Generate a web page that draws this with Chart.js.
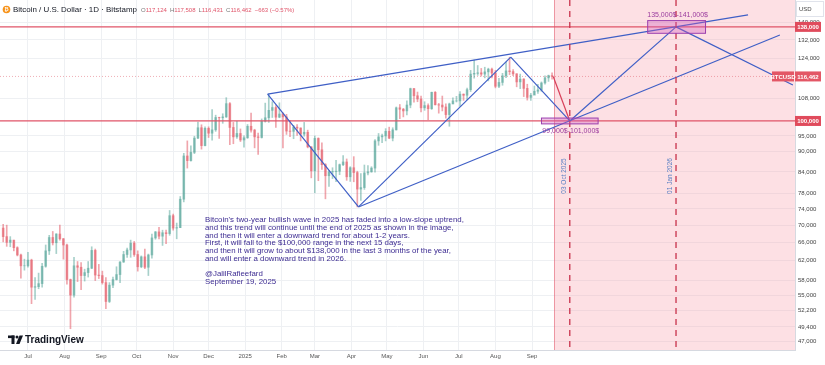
<!DOCTYPE html>
<html>
<head>
<meta charset="utf-8">
<title>BTCUSD</title>
<script src="https://cdn.jsdelivr.net/npm/chart.js@4.4.1/dist/chart.umd.min.js"></script>
<style>
  body { margin: 0; background: #fff; }
  canvas { display: block; }
</style>
</head>
<body>
<canvas id="myChart" width="825" height="365"></canvas>
<script>
// dias contados desde el 1 Jul 2024, precios en miles de USD
const primerDia = -22          // 9 Jun 2024, primera vela de 3 dias
const pasoDias = 3
const aperturaInicial = 69.3

const cierres = [
  67.3, 66.0, 66.5, 64.8, 63.2, 60.9, 60.9, 62.1, 56.6, 56.7,
  57.3, 60.8, 64.1, 67.1, 65.9, 67.9, 66.8, 65.4, 58.1, 55.1,
  60.9, 60.6, 58.9, 59.5, 60.4, 64.2, 59.0, 58.9, 57.5, 53.9,
  57.0, 58.1, 59.1, 61.7, 63.3, 64.3, 65.8, 63.3, 60.7, 62.8,
  60.6, 63.2, 67.0, 68.4, 67.4, 68.2, 68.0, 72.3, 69.3, 69.4,
  76.5, 88.7, 87.3, 89.8, 94.3, 97.7, 91.9, 97.5, 95.9, 97.0,
  101.2, 101.1, 101.4, 106.1, 97.8, 94.7, 95.8, 93.7, 94.4, 98.2,
  96.9, 94.7, 94.5, 99.9, 101.1, 103.7, 104.7, 101.3, 102.4, 101.4,
  96.6, 96.5, 97.9, 97.6, 95.6, 96.2, 91.5, 84.3, 94.2, 90.6,
  86.1, 82.9, 84.0, 84.1, 84.2, 86.1, 86.9, 82.6, 85.2, 83.8,
  79.2, 79.6, 83.7, 84.0, 85.1, 93.4, 94.7, 95.0, 96.5, 94.3,
  97.0, 104.6, 104.1, 103.5, 105.6, 111.7, 109.0, 107.8, 104.6, 105.4,
  104.3, 110.3, 105.7, 105.6, 104.9, 102.2, 106.0, 107.1, 107.1, 109.6,
  109.2, 111.3, 117.4, 117.7, 117.9, 117.4, 118.3, 119.4, 117.8, 112.6,
  114.1, 116.7, 118.7, 118.4, 117.5, 114.3, 115.4, 111.8, 108.4, 109.2,
  110.7, 111.2, 113.9, 115.9, 116.8, 116.462
]
const maximos = [
  70.2, 70.0, 67.3, 66.5, 65.0, 63.4, 62.3, 63.8, 62.3, 58.5,
  59.4, 61.4, 65.4, 67.6, 68.5, 68.0, 70.0, 66.9, 65.6, 58.2,
  62.7, 61.8, 61.6, 60.2, 61.8, 65.0, 64.5, 61.2, 59.8, 58.5,
  57.5, 58.6, 60.7, 61.8, 64.0, 64.7, 66.5, 66.2, 64.1, 63.0,
  64.5, 63.4, 67.9, 68.5, 69.5, 68.8, 68.8, 73.6, 72.7, 70.5,
  77.2, 89.5, 93.4, 91.8, 94.9, 99.6, 98.7, 98.0, 98.0, 104.0,
  102.0, 101.3, 102.5, 108.3, 106.5, 99.5, 99.9, 97.3, 95.0, 98.8,
  102.7, 97.2, 95.9, 100.7, 106.3, 109.6, 106.8, 105.4, 106.4, 102.8,
  102.3, 100.1, 98.5, 98.8, 97.7, 99.5, 96.9, 91.6, 95.0, 94.4,
  92.8, 86.4, 84.4, 85.2, 87.4, 86.3, 88.8, 87.8, 85.5, 88.5,
  84.2, 83.5, 86.0, 85.8, 85.5, 93.8, 95.8, 95.6, 97.4, 97.9,
  97.7, 104.9, 105.8, 104.4, 107.1, 111.9, 111.8, 110.4, 108.9, 106.8,
  106.0, 110.4, 110.6, 106.2, 108.9, 106.0, 106.3, 108.2, 108.8, 110.6,
  109.7, 111.9, 118.9, 123.2, 120.9, 119.7, 120.2, 119.8, 119.8, 118.9,
  115.7, 117.7, 122.3, 124.4, 119.2, 117.6, 117.4, 115.6, 113.4, 109.9,
  112.7, 113.4, 114.3, 116.7, 117.0, 117.9
]
const minimos = [
  66.1, 65.1, 65.0, 64.1, 63.0, 58.4, 60.0, 60.6, 53.5, 54.3,
  56.3, 56.6, 60.6, 63.3, 65.4, 63.5, 66.5, 62.3, 57.2, 49.1,
  54.7, 57.7, 56.1, 57.8, 58.6, 60.3, 57.9, 58.3, 57.2, 52.6,
  53.7, 56.5, 58.0, 57.5, 61.6, 62.7, 62.7, 62.9, 59.8, 60.5,
  60.3, 58.9, 62.5, 66.7, 66.8, 65.3, 65.7, 67.6, 68.8, 66.8,
  69.4, 75.8, 85.1, 87.1, 89.4, 94.1, 90.8, 91.8, 94.5, 93.6,
  96.5, 94.2, 99.2, 101.2, 92.2, 92.5, 94.2, 93.2, 91.4, 94.2,
  96.2, 91.2, 89.2, 94.3, 99.6, 99.5, 101.2, 97.8, 101.1, 91.2,
  95.5, 94.8, 94.1, 95.2, 93.4, 94.9, 91.2, 82.3, 78.2, 81.5,
  84.7, 76.6, 79.9, 82.1, 81.2, 83.2, 85.8, 81.6, 81.3, 81.2,
  74.5, 76.2, 79.1, 83.1, 83.9, 83.9, 92.0, 92.8, 93.4, 94.1,
  93.4, 96.9, 100.8, 101.4, 102.1, 104.6, 106.6, 106.8, 103.1, 103.7,
  100.4, 104.0, 105.6, 102.7, 103.5, 101.0, 98.2, 106.0, 106.7, 105.1,
  107.3, 107.5, 110.6, 115.8, 116.9, 116.6, 115.9, 114.7, 115.9, 112.0,
  112.1, 113.0, 116.0, 117.2, 116.8, 112.4, 111.7, 108.7, 107.4, 107.3,
  109.4, 109.9, 110.7, 113.4, 114.5, 115.4
]

const diasMes = [0, 31, 62, 92, 123, 153, 184, 215, 243, 274, 304, 335, 365, 396, 427]
const etiquetasMes = ["Jul", "Aug", "Sep", "Oct", "Nov", "Dec", "2025", "Feb", "Mar", "Apr", "May", "Jun", "Jul", "Aug", "Sep"]
const marcasPrecio = [47, 49.4, 52.2, 55, 58, 62, 66, 70, 74, 78, 84, 90, 95, 108, 124, 132, 140]

const diaMin = -23.7, diaMax = 649.8
const precioMin = 45.65, precioMax = 151.3

const niveles = [138, 100]
const ultimoPrecio = 116.462
const inicioProyeccion = 446
const fechasClave = [459, 549]
const textosFechas = ["03 Oct 2025", "01 Jan 2026"]

// trazos del analisis: [dia, precio] -> [dia, precio]
const lineasAzules = [
  [[203, 109.6], [280, 74.5]],
  [[203, 109.6], [610, 143.8]],
  [[280, 74.5], [409, 124.4]],
  [[409, 124.4], [459, 100]],
  [[280, 74.5], [637, 134.2]],
  [[459, 100], [549, 138]],
  [[549, 138], [648, 113.1]]
]
const lineaRoja = [[445, 116.462], [459, 100]]

const zonas = [
  { desde: 435, hasta: 483, bajo: 99, alto: 101, texto: "99,000$-101,000$" },
  { desde: 525, hasta: 574, bajo: 135, alto: 141, texto: "135,000$-141,000$" }
]

const notas = [
  "Bitcoin's two-year bullish wave in 2025 has faded into a low-slope uptrend,",
  "and this trend will continue until the end of 2025 as shown in the image,",
  "and then it will enter a downward trend for about 1-2 years.",
  "First, it will fall to the $100,000 range in the next 15 days,",
  "and then it will grow to about $138,000 in the last 3 months of the year,",
  "and will enter a downward trend in 2026.",
  "",
  "@JalilRafieefard",
  "September 19, 2025"
]
const titulo = "Bitcoin / U.S. Dollar · 1D · Bitstamp"
const ohlc = [["O", "117,124"], ["H", "117,508"], ["L", "116,431"], ["C", "116,462"], ["", "−663 (−0.57%)"]]

const FUENTE = '"Liberation Sans", Arial, sans-serif'
Chart.defaults.font.family = FUENTE

const velas = cierres.map((c, i) => ({
  x: primerDia + pasoDias * i + 1,
  o: i === 0 ? aperturaInicial : cierres[i - 1],
  c: c,
  h: maximos[i],
  l: minimos[i]
}))
const colorVela = velas.map(v => v.c >= v.o ? "rgba(60,150,138,0.45)" : "rgba(225,75,90,0.5)")

function ajustarFuente(ctx, texto, ancho, peso) {
  ctx.font = (peso || "") + " 10px " + FUENTE
  return 10 * ancho / ctx.measureText(texto).width
}

function etiqueta(ctx, texto, x, y, w, color) {
  ctx.fillStyle = color
  ctx.fillRect(x, y - 5, w, 10)
  ctx.fillStyle = "#fff"
  ctx.font = "bold 6px " + FUENTE
  ctx.textAlign = "center"
  ctx.textBaseline = "middle"
  ctx.fillText(texto, x + w / 2, y + 0.5)
}

const dibujos = {
  id: "dibujos",
  beforeDatasetsDraw(chart) {
    const { ctx, chartArea: a, scales: { x, y } } = chart
    const x0 = x.getPixelForValue(inicioProyeccion)
    ctx.save()
    ctx.fillStyle = "rgba(250,160,172,0.33)"
    ctx.fillRect(x0, a.top, a.right - x0, a.bottom - a.top)
    ctx.strokeStyle = "rgba(225,90,110,0.6)"
    ctx.lineWidth = 1
    ctx.beginPath()
    ctx.moveTo(Math.round(x0) + 0.5, a.top)
    ctx.lineTo(Math.round(x0) + 0.5, a.bottom)
    ctx.stroke()
    const yp = y.getPixelForValue(ultimoPrecio)
    ctx.setLineDash([1, 2])
    ctx.strokeStyle = "rgba(220,80,95,0.45)"
    ctx.beginPath()
    ctx.moveTo(a.left, yp)
    ctx.lineTo(a.right, yp)
    ctx.stroke()
    ctx.restore()
  },
  afterDatasetsDraw(chart) {
    const { ctx, chartArea: a, scales: { x, y } } = chart
    ctx.save()
    // lineas verticales punteadas
    ctx.strokeStyle = "#c8324c"
    ctx.lineWidth = 1.3
    ctx.setLineDash([6, 5])
    fechasClave.forEach(d => {
      const xp = x.getPixelForValue(d)
      ctx.beginPath()
      ctx.moveTo(xp, a.top)
      ctx.lineTo(xp, a.bottom)
      ctx.stroke()
    })
    ctx.setLineDash([])
    // zonas objetivo
    zonas.forEach(z => {
      const x1 = x.getPixelForValue(z.desde), x2 = x.getPixelForValue(z.hasta)
      const y1 = y.getPixelForValue(z.alto), y2 = y.getPixelForValue(z.bajo)
      ctx.fillStyle = "rgba(205,90,185,0.35)"
      ctx.fillRect(x1, y1, x2 - x1, y2 - y1)
      ctx.strokeStyle = "#9b3fae"
      ctx.lineWidth = 1
      ctx.strokeRect(x1, y1, x2 - x1, y2 - y1)
      ctx.fillStyle = "#9b3c9e"
      ctx.font = "7px " + FUENTE
      ctx.textAlign = "center"
      ctx.textBaseline = "middle"
      const abajo = z.alto < ultimoPrecio
      ctx.fillText(z.texto, (x1 + x2) / 2 + 1, abajo ? y2 + 7 : y1 - 6)
    })
    // fechas verticales
    ctx.fillStyle = "#5a80c4"
    ctx.font = "6.5px " + FUENTE
    fechasClave.forEach((d, i) => {
      ctx.save()
      ctx.translate(x.getPixelForValue(d) - 5.5, 176)
      ctx.rotate(-Math.PI / 2)
      ctx.textAlign = "center"
      ctx.textBaseline = "middle"
      ctx.fillText(textosFechas[i], 0, 0)
      ctx.restore()
    })
    // texto del analisis
    const fs = ajustarFuente(ctx, notas[0], 259)
    ctx.font = fs.toFixed(2) + "px " + FUENTE
    ctx.fillStyle = "#3d2c92"
    ctx.textAlign = "left"
    ctx.textBaseline = "middle"
    notas.forEach((t, i) => ctx.fillText(t, 205, 220 + i * 7.75))
    ctx.restore()
  },
  afterDraw(chart) {
    const { ctx, chartArea: a, scales: { y } } = chart
    ctx.save()
    // cabecera
    ctx.fillStyle = "#f7931a"
    ctx.beginPath()
    ctx.arc(6.5, 9.5, 3.8, 0, Math.PI * 2)
    ctx.fill()
    ctx.fillStyle = "#fff"
    ctx.font = "bold 5px " + FUENTE
    ctx.textAlign = "center"
    ctx.textBaseline = "middle"
    ctx.fillText("₿", 6.5, 9.8)
    const ft = ajustarFuente(ctx, titulo, 124)
    ctx.font = ft.toFixed(2) + "px " + FUENTE
    ctx.fillStyle = "#131722"
    ctx.textAlign = "left"
    ctx.fillText(titulo, 13, 10)
    ctx.font = "6px " + FUENTE
    let xo = 141
    ohlc.forEach(([k, v]) => {
      ctx.fillStyle = "#777"
      ctx.fillText(k, xo, 10)
      xo += ctx.measureText(k).width
      ctx.fillStyle = "#e0556a"
      ctx.fillText(v, xo, 10)
      xo += ctx.measureText(v).width + 3
    })
    // logo
    ctx.fillStyle = "#131722"
    ctx.fillRect(8, 335.5, 6.5, 2.6)
    ctx.fillRect(11.5, 335.5, 3, 8.5)
    ctx.beginPath()
    ctx.arc(17, 337, 1.5, 0, Math.PI * 2)
    ctx.fill()
    ctx.beginPath()
    ctx.moveTo(19.5, 335.5); ctx.lineTo(23, 335.5); ctx.lineTo(19.5, 344); ctx.lineTo(16, 344)
    ctx.closePath()
    ctx.fill()
    ctx.font = "bold 10px " + FUENTE
    ctx.textBaseline = "middle"
    ctx.fillText("TradingView", 25, 340)
    // eje de precios
    ctx.fillStyle = "#fff"
    ctx.fillRect(a.right + 1, 1, 27, 15)
    ctx.strokeStyle = "#e0e3eb"
    ctx.strokeRect(a.right + 1.5, 1.5, 27, 15)
    ctx.fillStyle = "#444"
    ctx.font = "6px " + FUENTE
    ctx.textAlign = "left"
    ctx.fillText("USD", a.right + 4, 9.5)
    niveles.forEach(n => etiqueta(ctx, (n * 1000).toLocaleString("en-US"), a.right, y.getPixelForValue(n), 26, "#e04b5c"))
    const yu = y.getPixelForValue(ultimoPrecio)
    etiqueta(ctx, Math.round(ultimoPrecio * 1000).toLocaleString("en-US"), a.right, yu, 26, "#e35766")
    etiqueta(ctx, "BTCUSD", a.right - 23, yu, 22, "#e35766")
    ctx.restore()
  }
}

const datasets = []
lineasAzules.forEach(seg => datasets.push({
  type: "line",
  data: seg.map(p => ({ x: p[0], y: p[1] })),
  borderColor: "#3f5fc6",
  borderWidth: 1.2,
  pointRadius: 0,
  fill: false,
  order: 0
}))
datasets.push({
  type: "line",
  data: lineaRoja.map(p => ({ x: p[0], y: p[1] })),
  borderColor: "#d8405a",
  borderWidth: 1.2,
  pointRadius: 0,
  order: 0
})
niveles.forEach(n => datasets.push({
  type: "line",
  data: [{ x: diaMin, y: n }, { x: diaMax, y: n }],
  borderColor: "#e05568",
  borderWidth: 1.2,
  pointRadius: 0,
  order: 1
}))
datasets.push({
  type: "bar",
  data: velas.map(v => ({ x: v.x, y: [v.o, v.c] })),
  backgroundColor: colorVela,
  barThickness: 2,
  grouped: false,
  order: 2
})
datasets.push({
  type: "bar",
  data: velas.map(v => ({ x: v.x, y: [v.l, v.h] })),
  backgroundColor: colorVela,
  barThickness: 1,
  grouped: false,
  order: 3
})

new Chart(document.getElementById("myChart"), {
  type: "bar",
  data: { datasets },
  options: {
    responsive: false,
    animation: false,
    devicePixelRatio: 1,
    events: [],
    layout: { padding: 0 },
    plugins: { legend: { display: false }, tooltip: { enabled: false } },
    scales: {
      x: {
        type: "linear",
        min: diaMin,
        max: diaMax,
        offset: false,
        grid: { color: "#eef0f3", drawTicks: false, offset: false },
        border: { color: "#d6d9e0" },
        ticks: {
          autoSkip: false,
          maxRotation: 0,
          padding: 3,
          color: "#555",
          font: { size: 6 },
          callback: v => etiquetasMes[diasMes.indexOf(v)] || ""
        },
        afterBuildTicks: s => { s.ticks = diasMes.map(d => ({ value: d })) },
        afterFit: s => { s.height = 15; s.paddingLeft = 0; s.paddingRight = 0 }
      },
      y: {
        type: "logarithmic",
        position: "right",
        min: precioMin,
        max: precioMax,
        grid: { color: "#eef0f3", drawTicks: false },
        border: { color: "#d6d9e0" },
        ticks: {
          autoSkip: false,
          padding: 3,
          color: "#444",
          font: { size: 6 },
          callback: v => Math.round(v * 1000).toLocaleString("en-US")
        },
        afterBuildTicks: s => { s.ticks = marcasPrecio.map(v => ({ value: v })) },
        afterFit: s => { s.width = 30; s.paddingTop = 0; s.paddingBottom = 0 }
      }
    }
  },
  plugins: [dibujos]
})
</script>
</body>
</html>
